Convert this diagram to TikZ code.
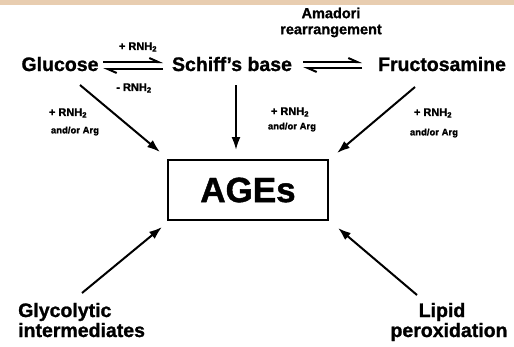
\documentclass[tikz,border=0pt]{standalone}
\usepackage{fontspec}
\setmainfont{Liberation Sans}[BoldFeatures={FakeBold=1.2}]
\usetikzlibrary{arrows.meta}
\definecolor{band}{HTML}{E8CDB0}
\begin{document}
\begin{tikzpicture}[x=1pt,y=-1pt,
  big/.style={font=\fontsize{19.5}{22}\selectfont\bfseries, inner sep=0pt, anchor=base},
  mid/.style={font=\fontsize{14.5}{16}\selectfont\bfseries, inner sep=0pt},
  lab/.style={font=\fontsize{11}{12}\selectfont\bfseries, inner sep=0pt},
  tiny/.style={font=\fontsize{9.5}{10}\selectfont\bfseries, inner sep=0pt},
  arr/.style={line width=2pt, -{Latex[length=13pt,width=9pt]}},
  eq/.style={line width=2pt}]
\useasboundingbox (0,0) rectangle (514,346);
\fill[band] (0,0) rectangle (514,5);
% main texts
\node[big] (glu) at (60,71) {Glucose};
\node[big] (sch) at (232,71) {Schiff's base};
\node[big] (fru) at (442,71) {Fructosamine};
\node[mid] (amad) at (331,13) {Amadori};
\node[mid] (rear) at (331,31) {rearrangement};
\node[lab] (rn1) at (138,47) {+ RNH\textsubscript{2}};
\node[lab] (rn2) at (134,88) {- RNH\textsubscript{2}};
% AGEs box
\node[draw, line width=2.2pt, minimum width=160pt, minimum height=60pt, inner sep=0pt,
  font=\fontsize{35}{40}\selectfont\bfseries] (ages) at (248,190) {AGEs};
% side labels
\node[lab] (l1) at (68,113) {+ RNH\textsubscript{2}};
\node[tiny] (l2) at (75,131) {and/or Arg};
\node[lab] (m1) at (290,112) {+ RNH\textsubscript{2}};
\node[tiny] (m2) at (292,127) {and/or Arg};
\node[lab] (r1) at (433,113) {+ RNH\textsubscript{2}};
\node[tiny] (r2) at (434,133) {and/or Arg};
% bottom texts
\node[big, anchor=base west] (gly) at (18,317) {Glycolytic};
\node[big, anchor=base west] (int) at (18,337) {intermediates};
\node[big] (lip) at (442,317) {Lipid};
\node[big] (per) at (449,337) {peroxidation};
% connector coordinates
\coordinate (e1a) at (103,62); \coordinate (e1b) at (163,62);
\coordinate (e1c) at (163,69); \coordinate (e1d) at (103,69);
\coordinate (e2a) at (303,62); \coordinate (e2b) at (362,62);
\coordinate (e2c) at (362,68); \coordinate (e2d) at (303,68);
\coordinate (gs) at (80,85); \coordinate (ge) at (160,152);
\coordinate (ss) at (236,85); \coordinate (se) at (236,150);
\coordinate (fs) at (415,87); \coordinate (fe) at (337,153);
\coordinate (ys) at (82,293); \coordinate (ye) at (162,227);
\coordinate (ps) at (417,295); \coordinate (pe) at (338,228);
% equilibria
\draw[eq, -{Straight Barb[harpoon,length=9pt,width=8pt]}] (e1a) -- (e1b);
\draw[eq, -{Straight Barb[harpoon,length=9pt,width=8pt]}] (e1c) -- (e1d);
\draw[eq, -{Straight Barb[harpoon,length=9pt,width=8pt]}] (e2a) -- (e2b);
\draw[eq, -{Straight Barb[harpoon,length=9pt,width=8pt]}] (e2c) -- (e2d);
% arrows to AGEs
\draw[arr] (gs) -- (ge);
\draw[arr] (ss) -- (se);
\draw[arr] (fs) -- (fe);
\draw[arr] (ys) -- (ye);
\draw[arr] (ps) -- (pe);
\end{tikzpicture}
\end{document}
